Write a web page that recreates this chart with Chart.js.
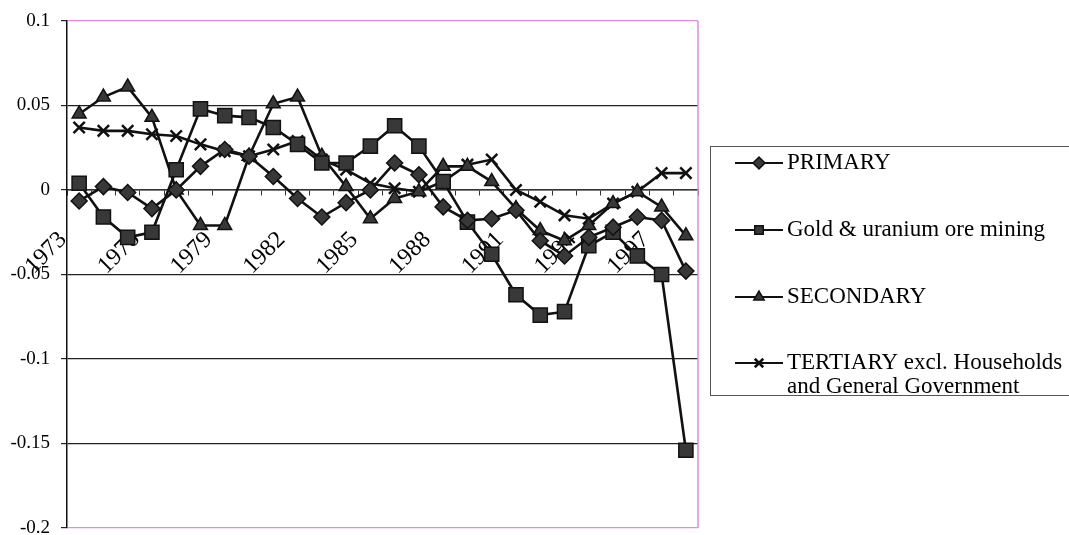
<!DOCTYPE html>
<html>
<head>
<meta charset="utf-8">
<script src="https://cdn.jsdelivr.net/npm/chart.js@4.4.1/dist/chart.umd.min.js"></script>
<style>
  html, body { margin: 0; padding: 0; background: #ffffff; }
  #wrap { width: 1069px; height: 535px; position: relative; }
</style>
</head>
<body>
<div id="wrap"><canvas id="chart" width="1069" height="535"></canvas></div>
<script>
// Years on the category axis
const years = ['1973','1974','1975','1976','1977','1978','1979','1980','1981','1982','1983','1984','1985',
               '1986','1987','1988','1989','1990','1991','1992','1993','1994','1995','1996','1997','1998'];
// Years that carry a printed label
const labelledYears = ['1973','1976','1979','1982','1985','1988','1991','1994','1997'];

// Series values
const primary = [-0.0065, 0.002, -0.0015, -0.011, 0.000, 0.014, 0.024, 0.020, 0.008, -0.005, -0.016, -0.0075,
                 0.000, 0.016, 0.009, -0.010, -0.018, -0.017, -0.012, -0.030, -0.039, -0.028, -0.022, -0.016, -0.018, -0.048];
const goldUranium = [0.004, -0.016, -0.028, -0.025, 0.012, 0.048, 0.044, 0.043, 0.037, 0.027, 0.016, 0.016,
                     0.026, 0.038, 0.026, 0.005, -0.019, -0.038, -0.062, -0.074, -0.072, -0.033, -0.025, -0.039, -0.050, -0.154];
const secondary = [0.045, 0.055, 0.061, 0.043, 0.000, -0.021, -0.021, 0.020, 0.051, 0.055, 0.020, 0.002,
                   -0.017, -0.005, -0.001, 0.014, 0.014, 0.005, -0.011, -0.024, -0.030, -0.021, -0.008, -0.001, -0.010, -0.027];
const tertiary = [0.037, 0.035, 0.035, 0.033, 0.032, 0.027, 0.023, 0.020, 0.024, 0.029, 0.018, 0.012,
                  0.004, 0.001, -0.001, 0.005, 0.015, 0.018, 0.000, -0.007, -0.015, -0.017, -0.008, -0.001, 0.010, 0.010];

// Value axis range and step
const yMin = -0.2, yMax = 0.1, yStep = 0.05;

const SERIF = '"Liberation Serif", "Times New Roman", serif';
const INK = '#111111';
const MARK = '#383838';
const FRAME_PINK = '#e58ae0';

function series(label, legendLines, data, style, radius, markBorder) {
  return {
    label, legendLines, data,
    borderColor: INK, borderWidth: 2.6,
    pointStyle: style, pointRadius: radius, pointHoverRadius: radius,
    pointBackgroundColor: MARK, pointBorderColor: INK, pointBorderWidth: markBorder,
    fill: false, tension: 0
  };
}

// Pink edge on the right of the plot area
const plotFrame = {
  id: 'plotFrame',
  beforeDatasetsDraw(chart) {
    const { ctx, chartArea: a } = chart;
    ctx.save();
    ctx.strokeStyle = FRAME_PINK;
    ctx.lineWidth = 1.5;
    ctx.beginPath();
    ctx.moveTo(a.right, a.top);
    ctx.lineTo(a.right, a.bottom);
    ctx.stroke();
    ctx.restore();
  }
};

// Boxed legend with a line-and-marker sample per series
const boxedLegend = {
  id: 'boxedLegend',
  afterDraw(chart) {
    const { ctx } = chart;
    const rows = [163, 230, 297, 363];
    ctx.save();
    ctx.strokeStyle = '#555555';
    ctx.lineWidth = 1;
    ctx.strokeRect(710.5, 146.5, 420, 249);
    chart.data.datasets.forEach((ds, i) => {
      const y = rows[i];
      ctx.strokeStyle = INK;
      ctx.lineWidth = 2;
      ctx.beginPath();
      ctx.moveTo(735, y);
      ctx.lineTo(783, y);
      ctx.stroke();
      ctx.fillStyle = MARK;
      ctx.strokeStyle = INK;
      ctx.lineWidth = ds.pointBorderWidth;
      Chart.helpers.drawPoint(ctx, { pointStyle: ds.pointStyle, radius: 6, borderWidth: ds.pointBorderWidth, rotation: 0 }, 759, y);
      ctx.fillStyle = '#000000';
      ctx.font = '23px ' + SERIF;
      ctx.textBaseline = 'middle';
      ctx.textAlign = 'left';
      ds.legendLines.forEach((line, k) => ctx.fillText(line, 787, y + k * 24));
    });
    ctx.restore();
  }
};

new Chart(document.getElementById('chart'), {
  type: 'line',
  data: {
    labels: years,
    datasets: [
      series('PRIMARY', ['PRIMARY'], primary, 'rectRot', 8, 1.5),
      series('Gold & uranium ore mining', ['Gold & uranium ore mining'], goldUranium, 'rect', 10, 1.5),
      series('SECONDARY', ['SECONDARY'], secondary, 'triangle', 8, 1.5),
      series('TERTIARY excl. Households and General Government',
             ['TERTIARY excl. Households', 'and General Government'], tertiary, 'crossRot', 8, 2.5)
    ]
  },
  options: {
    responsive: false,
    animation: false,
    devicePixelRatio: 1,
    layout: { autoPadding: false, padding: { left: 0, top: 21, right: 371, bottom: 7 } },
    plugins: { legend: { display: false }, tooltip: { enabled: false } },
    scales: {
      x: {
        type: 'category',
        position: { y: 0 },
        offset: true,
        border: { display: true, color: '#333333', width: 1.5 },
        grid: { offset: true, drawOnChartArea: false, drawTicks: true, tickLength: 5, color: '#333333' },
        ticks: {
          autoSkip: false,
          minRotation: 45, maxRotation: 45,
          padding: 31,
          labelOffset: -16,
          color: '#000000',
          font: { family: SERIF, size: 24 },
          callback(value, index) {
            const y = years[index];
            return labelledYears.includes(y) ? y : '';
          }
        },
        afterFit(scale) {
          scale.paddingLeft = 0;
          scale.paddingRight = 0;
          scale.paddingTop = 0;
          scale.paddingBottom = 0;
        }
      },
      y: {
        min: yMin, max: yMax,
        border: { display: true, color: '#111111', width: 1.5 },
        grid: {
          color: (c) => (c.tick && (Math.abs(c.tick.value - yMax) < 1e-9 || Math.abs(c.tick.value - yMin) < 1e-9)) ? FRAME_PINK : '#222222',
          lineWidth: 1.2,
          tickColor: '#222222',
          tickLength: 6
        },
        ticks: {
          stepSize: yStep,
          color: '#000000',
          padding: 11,
          font: { family: SERIF, size: 19 },
          callback(value) {
            const v = Math.round(value * 100) / 100;
            return String(v === 0 ? 0 : v);
          }
        },
        afterFit(scale) {
          scale.width = 67;
          scale.paddingTop = 0;
          scale.paddingBottom = 0;
        }
      }
    }
  },
  plugins: [plotFrame, boxedLegend]
});
</script>
</body>
</html>
